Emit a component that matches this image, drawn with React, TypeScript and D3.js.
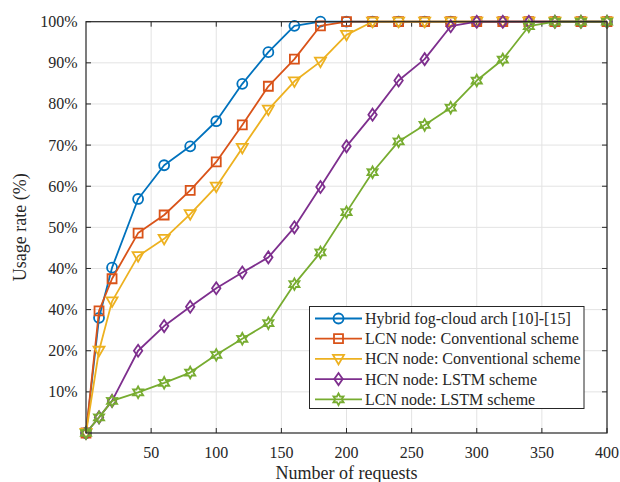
import React, { useEffect, useRef } from "react"
import * as d3 from "d3"

// number of requests
const requests = [0, 10, 20, 40, 60, 80, 100, 120, 140, 160, 180, 200, 220, 240, 260, 280, 300, 320, 340, 360, 380, 400]

const hybridFogCloud = [0, 28, 40.2, 56.9, 65.1, 69.7, 75.8, 84.9, 92.6, 99, 100, 100, 100, 100, 100, 100, 100, 100, 100, 100, 100, 100]
const lcnConventional = [0, 29.7, 37.5, 48.6, 53, 59, 65.9, 74.9, 84.3, 90.9, 99, 100, 100, 100, 100, 100, 100, 100, 100, 100, 100, 100]
const hcnConventional = [0, 20, 32, 43, 47.2, 53.2, 59.9, 69.3, 78.6, 85.5, 90.3, 96.8, 100, 100, 100, 100, 100, 100, 100, 100, 100, 100]
const hcnLstm = [0, 3.8, 7.8, 20, 26, 30.7, 35.2, 39, 42.7, 50, 59.8, 69.7, 77.4, 85.7, 90.9, 98.9, 100, 100, 100, 100, 100, 100]
const lcnLstm = [0, 3.8, 7.8, 9.9, 12.2, 14.7, 19, 22.9, 26.7, 36.2, 43.9, 53.7, 63.4, 70.9, 74.9, 79.1, 85.7, 90.8, 98.9, 100, 100, 100]

const seriesNames = [
    "Hybrid fog-cloud arch [10]-[15]",
    "LCN node: Conventional scheme",
    "HCN node: Conventional scheme",
    "HCN node: LSTM scheme",
    "LCN node: LSTM scheme",
]
const seriesColors = ["#0072BD", "#D95319", "#EDB120", "#7E2F8E", "#77AC30"]
const seriesMarkers = ["circle", "square", "triangleDown", "diamond", "hexagram"]

const xTicks = [50, 100, 150, 200, 250, 300, 350, 400]
const yTicks = [10, 20, 30, 40, 50, 60, 70, 80, 90, 100]
const yTickLabels = ["10%", "20%", "40%", "40%", "50%", "60%", "70%", "80%", "90%", "100%"]

function markerPath(kind: string): string {
    if (kind === "circle") {
        return d3.symbol(d3.symbolCircle, 78)() as string
    }
    if (kind === "square") {
        return "M-4.5,-4.5L4.5,-4.5L4.5,4.5L-4.5,4.5Z"
    }
    if (kind === "triangleDown") {
        return "M-5.5,-4L5.5,-4L0,5.5Z"
    }
    if (kind === "diamond") {
        return "M0,-6L4.2,0L0,6L-4.2,0Z"
    }
    // six pointed star
    const pts: [number, number][] = []
    for (let i = 0; i < 12; i++) {
        const r = i % 2 === 0 ? 5.8 : 3.2
        const a = -Math.PI / 2 + (i * Math.PI) / 6
        pts.push([r * Math.cos(a), r * Math.sin(a)])
    }
    return (d3.line()(pts) as string) + "Z"
}

export default function App() {
    const ref = useRef<SVGSVGElement>(null)

    useEffect(() => {
        const width = 620
        const height = 482
        const left = 86
        const right = 607
        const top = 21.7
        const bottom = 433
        const font = "'Liberation Serif', 'Times New Roman', serif"

        const svg = d3.select(ref.current)
        svg.selectAll("*").remove()
        svg.attr("width", width).attr("height", height)

        const xScale = d3.scaleLinear().domain([0, 400]).range([left, right])
        const yScale = d3.scaleLinear().domain([0, 100]).range([bottom, top])

        svg.append("rect")
            .attr("width", width)
            .attr("height", height)
            .attr("fill", "#ffffff")

        // grid
        const grid = svg.append("g")
        grid.selectAll("line.gx")
            .data(xTicks)
            .enter()
            .append("line")
            .attr("x1", d => xScale(d))
            .attr("x2", d => xScale(d))
            .attr("y1", top)
            .attr("y2", bottom)
            .attr("stroke", "#e3e3e3")
            .attr("stroke-width", 1)
        grid.selectAll("line.gy")
            .data(yTicks)
            .enter()
            .append("line")
            .attr("x1", left)
            .attr("x2", right)
            .attr("y1", d => yScale(d))
            .attr("y2", d => yScale(d))
            .attr("stroke", "#e3e3e3")
            .attr("stroke-width", 1)

        // tick marks (inside, on all four sides)
        const ticks = svg.append("g").attr("stroke", "#262626").attr("stroke-width", 1)
        xTicks.forEach(t => {
            ticks.append("line").attr("x1", xScale(t)).attr("x2", xScale(t)).attr("y1", bottom).attr("y2", bottom - 5)
            ticks.append("line").attr("x1", xScale(t)).attr("x2", xScale(t)).attr("y1", top).attr("y2", top + 5)
        })
        yTicks.forEach(t => {
            ticks.append("line").attr("x1", left).attr("x2", left + 5).attr("y1", yScale(t)).attr("y2", yScale(t))
            ticks.append("line").attr("x1", right).attr("x2", right - 5).attr("y1", yScale(t)).attr("y2", yScale(t))
        })

        // tick labels
        svg.append("g")
            .selectAll("text")
            .data(xTicks)
            .enter()
            .append("text")
            .attr("x", d => xScale(d))
            .attr("y", 458)
            .attr("text-anchor", "middle")
            .attr("font-family", font)
            .attr("font-size", 16)
            .attr("fill", "#262626")
            .text(d => String(d))
        svg.append("g")
            .selectAll("text")
            .data(yTicks)
            .enter()
            .append("text")
            .attr("x", 77.5)
            .attr("y", d => yScale(d) + 5.5)
            .attr("text-anchor", "end")
            .attr("font-family", font)
            .attr("font-size", 16)
            .attr("fill", "#262626")
            .text((d, i) => yTickLabels[i])

        // axis titles
        svg.append("text")
            .attr("x", xScale(200))
            .attr("y", 479)
            .attr("text-anchor", "middle")
            .attr("font-family", font)
            .attr("font-size", 18)
            .attr("fill", "#262626")
            .text("Number of requests")
        svg.append("text")
            .attr("transform", `translate(26,${yScale(50)}) rotate(-90)`)
            .attr("text-anchor", "middle")
            .attr("font-family", font)
            .attr("font-size", 18)
            .attr("fill", "#262626")
            .text("Usage rate (%)")

        // series
        const allSeries = [hybridFogCloud, lcnConventional, hcnConventional, hcnLstm, lcnLstm]
        const line = d3
            .line<number>()
            .x((d, i) => xScale(requests[i]))
            .y(d => yScale(d))
        allSeries.forEach((values, s) => {
            const g = svg.append("g")
            g.append("path")
                .datum(values)
                .attr("d", line)
                .attr("fill", "none")
                .attr("stroke", seriesColors[s])
                .attr("stroke-width", 1.8)
                .attr("stroke-linejoin", "round")
            g.selectAll("path.m")
                .data(values)
                .enter()
                .append("path")
                .attr("class", "m")
                .attr("d", markerPath(seriesMarkers[s]))
                .attr("transform", (d, i) => `translate(${xScale(requests[i])},${yScale(d)})`)
                .attr("fill", "none")
                .attr("stroke", seriesColors[s])
                .attr("stroke-width", 1.8)
        })

        // box
        svg.append("rect")
            .attr("x", left)
            .attr("y", top)
            .attr("width", right - left)
            .attr("height", bottom - top)
            .attr("fill", "none")
            .attr("stroke", "#262626")
            .attr("stroke-width", 1.2)

        // legend
        const legend = svg.append("g")
        legend.append("rect")
            .attr("x", 309.5)
            .attr("y", 306.5)
            .attr("width", 274.5)
            .attr("height", 102)
            .attr("fill", "#ffffff")
            .attr("stroke", "#262626")
            .attr("stroke-width", 1)
        seriesNames.forEach((name, s) => {
            const y = 318.5 + s * 20.2
            legend.append("line")
                .attr("x1", 315)
                .attr("x2", 362)
                .attr("y1", y)
                .attr("y2", y)
                .attr("stroke", seriesColors[s])
                .attr("stroke-width", 1.8)
            legend.append("path")
                .attr("d", markerPath(seriesMarkers[s]))
                .attr("transform", `translate(338.5,${y})`)
                .attr("fill", "none")
                .attr("stroke", seriesColors[s])
                .attr("stroke-width", 1.8)
            legend.append("text")
                .attr("x", 365)
                .attr("y", y + 5.5)
                .attr("font-family", font)
                .attr("font-size", 16)
                .attr("fill", "#262626")
                .text(name)
        })
    }, [])

    return <svg ref={ref} style={{ position: "absolute", left: 0, top: 0 }} />
}
